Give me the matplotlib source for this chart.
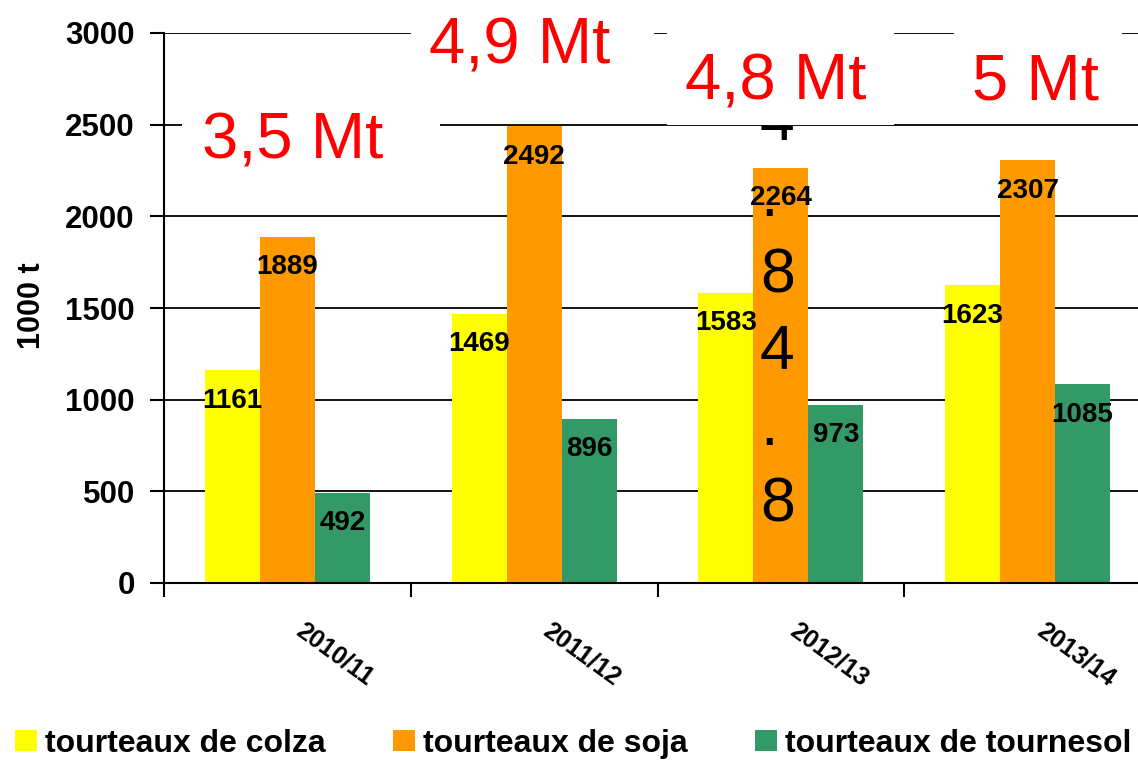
import matplotlib
matplotlib.use("Agg")
import matplotlib.pyplot as plt
from matplotlib.patches import Rectangle
import numpy as np

plt.rcParams['font.family'] = ['Liberation Sans', 'DejaVu Sans']

# Production de tourteaux (1000 t) par campagne
campagnes = ["2010/11", "2011/12", "2012/13", "2013/14"]
colza = [1161, 1469, 1583, 1623]
soja = [1889, 2492, 2264, 2307]
tournesol = [492, 896, 973, 1085]
totaux = ["3,5 Mt", "4,9 Mt", "4,8 Mt", "5 Mt"]
series_noms = ["tourteaux de colza", "tourteaux de soja", "tourteaux de tournesol"]
couleurs = ["#FFFF00", "#FF9900", "#339966"]

W, H = 1138, 762
fig = plt.figure(figsize=(W / 100, H / 100), dpi=100)
ax = fig.add_axes([164 / W, 179 / H, 987 / W, 550 / H])

x = np.arange(len(campagnes))
largeur = 0.223
series = [colza, soja, tournesol]
barres = []
for k, (vals, coul) in enumerate(zip(series, couleurs)):
    b = ax.bar(x + (k - 1) * largeur, vals, largeur, color=coul, zorder=2,
               label=series_noms[k])
    barres.append(b)
    for xi, v in zip(x + (k - 1) * largeur, vals):
        ax.annotate(str(v), (xi, v), xytext=(0, -22), textcoords="offset points",
                    ha="center", va="center", fontsize=20, fontweight="bold",
                    zorder=6)

ax.set_xlim(-0.5, 3.5)
ax.set_ylim(0, 3000)
ax.set_yticks(np.arange(0, 3001, 500))
ax.yaxis.grid(True, color="black", linewidth=1.3)
ax.set_axisbelow(True)
for s in ["top", "right"]:
    ax.spines[s].set_visible(False)
ax.spines["left"].set_linewidth(1.5)
ax.spines["bottom"].set_linewidth(1.5)
ax.tick_params(axis="y", length=10, width=1.5, pad=11, labelsize=22.5)
for lbl in ax.get_yticklabels():
    lbl.set_fontweight("bold")
ax.set_ylabel("1000 t", fontsize=22, fontweight="bold")
ax.yaxis.set_label_coords(-0.119, 0.505)

# graduations entre les campagnes, etiquettes inclinees
ax.set_xticks([])
ax.set_xticks(np.arange(-0.5, 4.0, 1.0), minor=True)
ax.tick_params(axis="x", which="minor", length=10, width=1.5)
for xi, nom in zip(x, campagnes):
    ax.text(xi + 0.075, -0.064, nom, transform=ax.get_xaxis_transform(),
            rotation=-36, rotation_mode="anchor", ha="left", va="top",
            fontsize=18, fontweight="bold")

# caches blancs derriere les totaux
caches = [(-0.426, 2120, 1.046, 815), (0.499, 2525, 0.985, 640),
          (1.540, 2497, 0.920, 668), (2.700, 2503, 0.681, 662)]
for (cx, cy, cw, ch) in caches:
    ax.add_patch(Rectangle((cx, cy), cw, ch, facecolor="white", edgecolor="none",
                           zorder=4, clip_on=False))

pos_totaux = [(0.02, 2318), (0.94, 2836), (1.98, 2635), (3.03, 2635)]
for (tx, ty), t in zip(pos_totaux, totaux):
    ax.text(tx, ty, t, color="#FF0000", fontsize=47, ha="center", va="baseline",
            zorder=5)

ax.text(1.915, 333, "4\n.\n8\n4\n.\n8", fontsize=45, ha="left", va="baseline",
        linespacing=1.38, zorder=3)

fig.legend(handles=barres, labels=series_noms, loc="center left",
           bbox_to_anchor=(0.013, 0.024), ncol=3, frameon=False,
           prop={"size": 23, "weight": "bold"}, handlelength=0.68,
           handleheight=0.68, handletextpad=0.27, columnspacing=2.1,
           borderaxespad=0, borderpad=0)

fig.savefig("out.png", dpi=100)
